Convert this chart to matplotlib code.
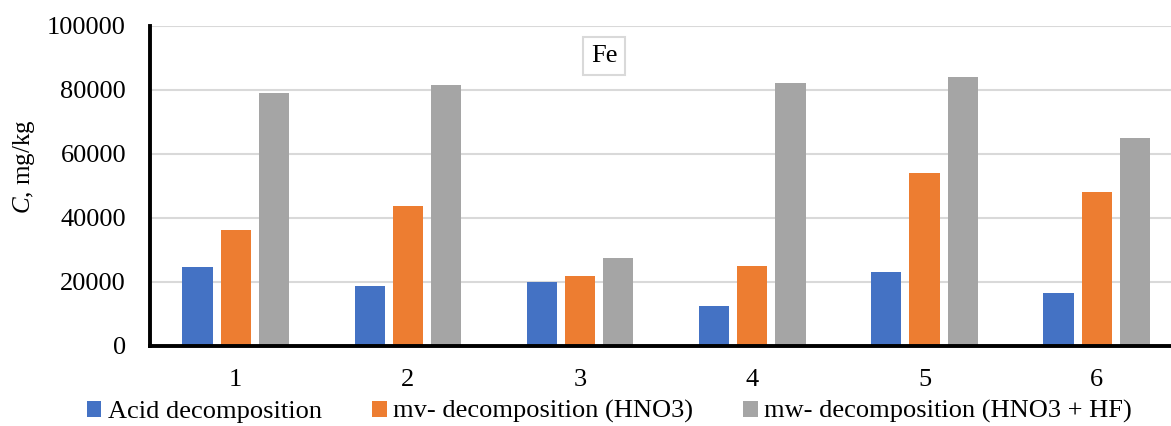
import numpy as np
import matplotlib
matplotlib.use("Agg")
import matplotlib.pyplot as plt

# sample numbers 1..6, Fe concentration in mg/kg
samples = ["1", "2", "3", "4", "5", "6"]
acid = [24500, 18800, 19800, 12400, 23100, 16400]
mv_hno3 = [36200, 43700, 21700, 24900, 54000, 47900]
mw_hno3_hf = [79100, 81400, 27400, 82100, 84000, 64900]
series_names = ["Acid decomposition", "mv- decomposition (HNO3)",
                "mw- decomposition (HNO3 + HF)"]
colors = ["#4472C4", "#ED7D31", "#A5A5A5"]

plt.rcParams['font.family'] = ['Liberation Serif', 'DejaVu Serif']
plt.rcParams['mathtext.fontset'] = 'custom'
plt.rcParams['mathtext.it'] = 'Liberation Serif:italic'
plt.rcParams['mathtext.rm'] = 'Liberation Serif'

fig = plt.figure(figsize=(11.71, 4.26), dpi=100)
ax = fig.add_axes([0.1278, 0.1885, 0.8823, 0.7512])

x = np.arange(len(samples))
w = 0.175
step = 0.222
for i, (vals, name, c) in enumerate(zip([acid, mv_hno3, mw_hno3_hf], series_names, colors)):
    ax.bar(x + (i - 1) * step, vals, width=w, color=c, label=name, zorder=3)

ax.set_xlim(-0.5, len(samples) - 0.5)
ax.set_ylim(0, 100000)
ax.set_yticks(np.arange(0, 100001, 20000))
ax.set_xticks(x)
ax.set_xticklabels(samples)
ax.grid(axis='y', color='#d9d9d9', linewidth=1.5, zorder=0)
ax.tick_params(axis='both', length=0, labelsize=19)
ax.tick_params(axis='y', pad=17)
ax.tick_params(axis='x', pad=17)

for s in ['top', 'right']:
    ax.spines[s].set_visible(False)
for s in ['left', 'bottom']:
    ax.spines[s].set_linewidth(2.8)
    ax.spines[s].set_color('black')
    ax.spines[s].set_zorder(4)

ax.set_ylabel(r'$C$, mg/kg', fontsize=18)
ax.yaxis.set_label_coords(-0.109, 0.558)

ax.text(0.44, 0.905, 'Fe', transform=ax.transAxes, fontsize=19,
        ha='center', va='center', zorder=5,
        bbox=dict(boxstyle='square,pad=0.3', fc='white', ec='#d9d9d9', lw=1.5))

fig.legend(loc='center', bbox_to_anchor=(0.5205, 0.033), ncol=3, frameon=False,
           fontsize=19, handlelength=0.55, handleheight=0.55,
           handletextpad=0.25, columnspacing=1.9)

fig.savefig("out.png", dpi=100)
